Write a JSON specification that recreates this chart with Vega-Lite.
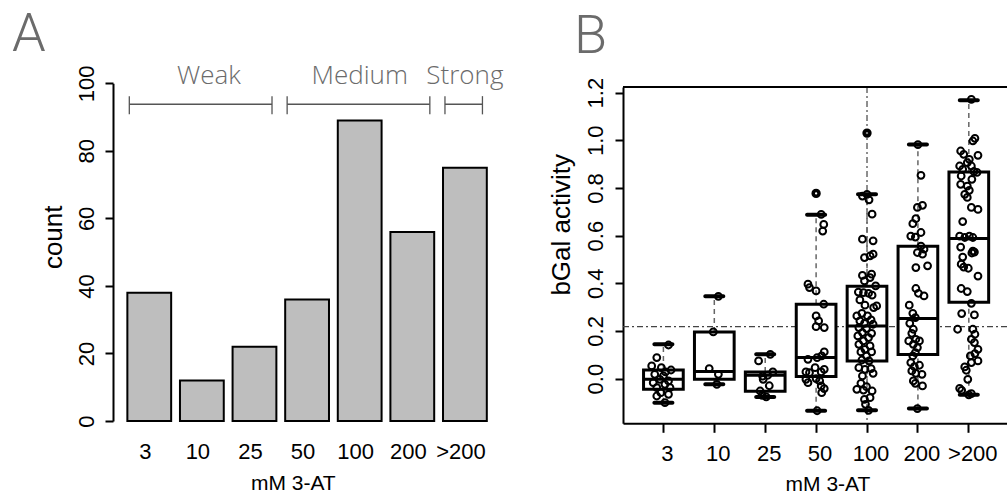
{
  "$schema": "https://vega.github.io/schema/vega-lite/v6.json",
  "background": "white",
  "padding": {"left": 12, "top": 8, "right": 0, "bottom": 0},
  "bounds": "flush",
  "spacing": 120,
  "config": {
    "font": "Liberation Sans",
    "view": {"stroke": null},
    "axis": {
      "labelFont": "Liberation Sans",
      "titleFont": "Liberation Sans",
      "labelColor": "black",
      "titleColor": "black",
      "titleFontWeight": "normal",
      "grid": false,
      "labelOverlap": false,
      "labelFlush": false
    }
  },
  "datasets": {
    "counts": [
      {"dose": "3", "count": 38},
      {"dose": "10", "count": 12},
      {"dose": "25", "count": 22},
      {"dose": "50", "count": 36},
      {"dose": "100", "count": 89},
      {"dose": "200", "count": 56},
      {"dose": ">200", "count": 75}
    ],
    "classes": [
      {"label": "Weak", "from": "3", "to": "25", "mid": "10"},
      {"label": "Medium", "from": "50", "to": "200", "mid": "100"},
      {"label": "Strong", "from": ">200", "to": ">200", "mid": ">200"}
    ],
    "stats": [
      {"dose": "3", "lower": -0.101, "q1": -0.045, "median": -0.003, "q3": 0.036, "upper": 0.144, "outlier": null},
      {"dose": "10", "lower": -0.024, "q1": -0.003, "median": 0.03, "q3": 0.196, "upper": 0.345, "outlier": null},
      {"dose": "25", "lower": -0.077, "q1": -0.053, "median": 0.014, "q3": 0.028, "upper": 0.102, "outlier": null},
      {"dose": "50", "lower": -0.135, "q1": 0.009, "median": 0.088, "q3": 0.312, "upper": 0.687, "outlier": 0.777},
      {"dose": "100", "lower": -0.133, "q1": 0.074, "median": 0.221, "q3": 0.387, "upper": 0.773, "outlier": 1.03},
      {"dose": "200", "lower": -0.126, "q1": 0.101, "median": 0.252, "q3": 0.555, "upper": 0.982, "outlier": null},
      {"dose": ">200", "lower": -0.068, "q1": 0.32, "median": 0.588, "q3": 0.867, "upper": 1.168, "outlier": null}
    ],
    "activity": [
      {"dose": "3", "v": 0.141, "j": 0.1}, {"dose": "3", "v": 0.088, "j": -0.13}, {"dose": "3", "v": 0.053, "j": -0.23},
      {"dose": "3", "v": 0.046, "j": -0.04}, {"dose": "3", "v": 0.036, "j": 0.15}, {"dose": "3", "v": 0.028, "j": 0.04},
      {"dose": "3", "v": 0.018, "j": -0.17}, {"dose": "3", "v": 0.011, "j": 0.0}, {"dose": "3", "v": -0.003, "j": -0.07},
      {"dose": "3", "v": -0.01, "j": 0.1}, {"dose": "3", "v": -0.017, "j": -0.2}, {"dose": "3", "v": -0.024, "j": 0.03},
      {"dose": "3", "v": -0.038, "j": -0.13}, {"dose": "3", "v": -0.038, "j": 0.13}, {"dose": "3", "v": -0.059, "j": -0.05},
      {"dose": "3", "v": -0.066, "j": 0.1}, {"dose": "3", "v": -0.073, "j": -0.13}, {"dose": "3", "v": -0.101, "j": 0.03},

      {"dose": "10", "v": 0.345, "j": 0.08}, {"dose": "10", "v": 0.196, "j": -0.02}, {"dose": "10", "v": 0.042, "j": -0.1},
      {"dose": "10", "v": 0.018, "j": 0.08}, {"dose": "10", "v": -0.024, "j": 0.05},

      {"dose": "25", "v": 0.102, "j": 0.1}, {"dose": "25", "v": 0.074, "j": -0.13}, {"dose": "25", "v": 0.028, "j": 0.15},
      {"dose": "25", "v": 0.014, "j": 0.05}, {"dose": "25", "v": 0.01, "j": -0.05}, {"dose": "25", "v": -0.003, "j": -0.04},
      {"dose": "25", "v": -0.03, "j": 0.08}, {"dose": "25", "v": -0.052, "j": -0.1}, {"dose": "25", "v": -0.07, "j": -0.06},
      {"dose": "25", "v": -0.077, "j": 0.02},

      {"dose": "50", "v": 0.689, "j": 0.1}, {"dose": "50", "v": 0.647, "j": 0.15}, {"dose": "50", "v": 0.619, "j": 0.13},
      {"dose": "50", "v": 0.396, "j": -0.16}, {"dose": "50", "v": 0.382, "j": -0.13}, {"dose": "50", "v": 0.368, "j": 0.0},
      {"dose": "50", "v": 0.312, "j": 0.15}, {"dose": "50", "v": 0.263, "j": 0.0}, {"dose": "50", "v": 0.242, "j": 0.05},
      {"dose": "50", "v": 0.218, "j": 0.0}, {"dose": "50", "v": 0.214, "j": 0.16}, {"dose": "50", "v": 0.112, "j": 0.16},
      {"dose": "50", "v": 0.095, "j": 0.11}, {"dose": "50", "v": 0.081, "j": -0.16}, {"dose": "50", "v": 0.088, "j": 0.02},
      {"dose": "50", "v": 0.046, "j": -0.02}, {"dose": "50", "v": 0.039, "j": 0.16}, {"dose": "50", "v": 0.028, "j": 0.1},
      {"dose": "50", "v": 0.028, "j": -0.2}, {"dose": "50", "v": 0.025, "j": -0.13}, {"dose": "50", "v": 0.0, "j": 0.0},
      {"dose": "50", "v": -0.003, "j": -0.2}, {"dose": "50", "v": -0.017, "j": -0.16}, {"dose": "50", "v": -0.01, "j": 0.07},
      {"dose": "50", "v": -0.031, "j": 0.1}, {"dose": "50", "v": -0.042, "j": 0.16}, {"dose": "50", "v": -0.059, "j": 0.11},
      {"dose": "50", "v": -0.135, "j": 0.02},

      {"dose": "100", "v": 0.773, "j": 0.0}, {"dose": "100", "v": 0.766, "j": -0.09}, {"dose": "100", "v": 0.75, "j": 0.04},
      {"dose": "100", "v": 0.69, "j": 0.1}, {"dose": "100", "v": 0.585, "j": -0.09}, {"dose": "100", "v": 0.578, "j": 0.12},
      {"dose": "100", "v": 0.508, "j": -0.05}, {"dose": "100", "v": 0.515, "j": 0.06}, {"dose": "100", "v": 0.522, "j": 0.12},
      {"dose": "100", "v": 0.433, "j": -0.09}, {"dose": "100", "v": 0.438, "j": 0.09}, {"dose": "100", "v": 0.424, "j": 0.06},
      {"dose": "100", "v": 0.41, "j": -0.05}, {"dose": "100", "v": 0.389, "j": 0.17}, {"dose": "100", "v": 0.363, "j": -0.17},
      {"dose": "100", "v": 0.361, "j": -0.07}, {"dose": "100", "v": 0.358, "j": 0.03}, {"dose": "100", "v": 0.35, "j": 0.1},
      {"dose": "100", "v": 0.33, "j": -0.14}, {"dose": "100", "v": 0.305, "j": 0.19}, {"dose": "100", "v": 0.308, "j": -0.04},
      {"dose": "100", "v": 0.298, "j": 0.13}, {"dose": "100", "v": 0.274, "j": -0.1}, {"dose": "100", "v": 0.263, "j": -0.2},
      {"dose": "100", "v": 0.263, "j": 0.01}, {"dose": "100", "v": 0.246, "j": 0.08}, {"dose": "100", "v": 0.242, "j": -0.14},
      {"dose": "100", "v": 0.232, "j": -0.05}, {"dose": "100", "v": 0.228, "j": 0.12}, {"dose": "100", "v": 0.214, "j": -0.16},
      {"dose": "100", "v": 0.21, "j": -0.01}, {"dose": "100", "v": 0.193, "j": -0.09}, {"dose": "100", "v": 0.19, "j": 0.09},
      {"dose": "100", "v": 0.179, "j": -0.18}, {"dose": "100", "v": 0.172, "j": 0.03}, {"dose": "100", "v": 0.158, "j": -0.07},
      {"dose": "100", "v": 0.144, "j": -0.16}, {"dose": "100", "v": 0.137, "j": 0.06}, {"dose": "100", "v": 0.123, "j": -0.04},
      {"dose": "100", "v": 0.112, "j": -0.12}, {"dose": "100", "v": 0.112, "j": 0.09}, {"dose": "100", "v": 0.095, "j": -0.01},
      {"dose": "100", "v": 0.078, "j": -0.1}, {"dose": "100", "v": 0.074, "j": 0.04}, {"dose": "100", "v": 0.046, "j": -0.16},
      {"dose": "100", "v": 0.039, "j": -0.04}, {"dose": "100", "v": 0.042, "j": 0.08}, {"dose": "100", "v": 0.022, "j": 0.12},
      {"dose": "100", "v": 0.011, "j": -0.09}, {"dose": "100", "v": -0.02, "j": -0.12}, {"dose": "100", "v": -0.034, "j": -0.01},
      {"dose": "100", "v": -0.045, "j": -0.2}, {"dose": "100", "v": -0.048, "j": -0.07}, {"dose": "100", "v": -0.052, "j": 0.1},
      {"dose": "100", "v": -0.087, "j": -0.05}, {"dose": "100", "v": -0.08, "j": 0.06}, {"dose": "100", "v": -0.108, "j": -0.03},
      {"dose": "100", "v": -0.133, "j": 0.03},

      {"dose": "200", "v": 0.982, "j": 0.0}, {"dose": "200", "v": 0.853, "j": 0.06}, {"dose": "200", "v": 0.727, "j": 0.09},
      {"dose": "200", "v": 0.718, "j": -0.01}, {"dose": "200", "v": 0.671, "j": -0.04}, {"dose": "200", "v": 0.65, "j": -0.1},
      {"dose": "200", "v": 0.613, "j": 0.06}, {"dose": "200", "v": 0.598, "j": -0.14}, {"dose": "200", "v": 0.594, "j": -0.05},
      {"dose": "200", "v": 0.556, "j": 0.06}, {"dose": "200", "v": 0.543, "j": 0.12}, {"dose": "200", "v": 0.529, "j": -0.01},
      {"dose": "200", "v": 0.522, "j": 0.09}, {"dose": "200", "v": 0.466, "j": -0.04}, {"dose": "200", "v": 0.473, "j": 0.19},
      {"dose": "200", "v": 0.378, "j": -0.04}, {"dose": "200", "v": 0.358, "j": 0.01}, {"dose": "200", "v": 0.347, "j": 0.12},
      {"dose": "200", "v": 0.308, "j": -0.17}, {"dose": "200", "v": 0.274, "j": -0.1}, {"dose": "200", "v": 0.256, "j": -0.05},
      {"dose": "200", "v": 0.232, "j": -0.16}, {"dose": "200", "v": 0.207, "j": -0.09}, {"dose": "200", "v": 0.19, "j": -0.12},
      {"dose": "200", "v": 0.165, "j": -0.04}, {"dose": "200", "v": 0.158, "j": -0.18}, {"dose": "200", "v": 0.158, "j": 0.03},
      {"dose": "200", "v": 0.144, "j": -0.09}, {"dose": "200", "v": 0.13, "j": -0.01}, {"dose": "200", "v": 0.109, "j": -0.05},
      {"dose": "200", "v": 0.095, "j": -0.1}, {"dose": "200", "v": 0.067, "j": -0.14}, {"dose": "200", "v": 0.05, "j": -0.07},
      {"dose": "200", "v": 0.056, "j": 0.03}, {"dose": "200", "v": 0.032, "j": -0.12}, {"dose": "200", "v": 0.022, "j": -0.04},
      {"dose": "200", "v": 0.018, "j": 0.08}, {"dose": "200", "v": -0.01, "j": -0.09}, {"dose": "200", "v": -0.02, "j": -0.05},
      {"dose": "200", "v": -0.031, "j": 0.09}, {"dose": "200", "v": -0.126, "j": -0.01},

      {"dose": ">200", "v": 1.172, "j": 0.05}, {"dose": ">200", "v": 1.008, "j": 0.12}, {"dose": ">200", "v": 0.997, "j": 0.08},
      {"dose": ">200", "v": 0.955, "j": -0.16}, {"dose": ">200", "v": 0.941, "j": -0.1}, {"dose": ">200", "v": 0.937, "j": 0.18},
      {"dose": ">200", "v": 0.92, "j": 0.01}, {"dose": ">200", "v": 0.906, "j": -0.03}, {"dose": ">200", "v": 0.892, "j": -0.18},
      {"dose": ">200", "v": 0.892, "j": 0.05}, {"dose": ">200", "v": 0.878, "j": -0.12}, {"dose": ">200", "v": 0.869, "j": 0.1},
      {"dose": ">200", "v": 0.865, "j": 0.16}, {"dose": ">200", "v": 0.85, "j": -0.15}, {"dose": ">200", "v": 0.836, "j": 0.06},
      {"dose": ">200", "v": 0.815, "j": -0.16}, {"dose": ">200", "v": 0.808, "j": -0.03}, {"dose": ">200", "v": 0.79, "j": 0.01},
      {"dose": ">200", "v": 0.773, "j": -0.08}, {"dose": ">200", "v": 0.76, "j": -0.03}, {"dose": ">200", "v": 0.718, "j": 0.05},
      {"dose": ">200", "v": 0.71, "j": 0.18}, {"dose": ">200", "v": 0.659, "j": -0.12}, {"dose": ">200", "v": 0.598, "j": -0.18},
      {"dose": ">200", "v": 0.592, "j": -0.08}, {"dose": ">200", "v": 0.598, "j": 0.01}, {"dose": ">200", "v": 0.592, "j": 0.08},
      {"dose": ">200", "v": 0.552, "j": -0.16}, {"dose": ">200", "v": 0.535, "j": 0.08}, {"dose": ">200", "v": 0.531, "j": 0.11},
      {"dose": ">200", "v": 0.527, "j": 0.06}, {"dose": ">200", "v": 0.51, "j": -0.12}, {"dose": ">200", "v": 0.48, "j": -0.15},
      {"dose": ">200", "v": 0.468, "j": -0.1}, {"dose": ">200", "v": 0.463, "j": -0.01}, {"dose": ">200", "v": 0.43, "j": 0.18},
      {"dose": ">200", "v": 0.378, "j": -0.15}, {"dose": ">200", "v": 0.365, "j": -0.03}, {"dose": ">200", "v": 0.316, "j": 0.05},
      {"dose": ">200", "v": 0.273, "j": -0.14}, {"dose": ">200", "v": 0.267, "j": 0.11}, {"dose": ">200", "v": 0.207, "j": -0.22},
      {"dose": ">200", "v": 0.207, "j": 0.08}, {"dose": ">200", "v": 0.186, "j": 0.12}, {"dose": ">200", "v": 0.165, "j": 0.05},
      {"dose": ">200", "v": 0.151, "j": 0.11}, {"dose": ">200", "v": 0.123, "j": 0.18}, {"dose": ">200", "v": 0.105, "j": 0.12},
      {"dose": ">200", "v": 0.095, "j": 0.03}, {"dose": ">200", "v": 0.074, "j": 0.18}, {"dose": ">200", "v": 0.067, "j": 0.05},
      {"dose": ">200", "v": 0.049, "j": -0.08}, {"dose": ">200", "v": 0.035, "j": -0.05}, {"dose": ">200", "v": -0.003, "j": -0.02},
      {"dose": ">200", "v": -0.041, "j": -0.18}, {"dose": ">200", "v": -0.049, "j": -0.14}, {"dose": ">200", "v": -0.063, "j": 0.05},
      {"dose": ">200", "v": -0.068, "j": 0.0}
    ]
  },
  "hconcat": [
    {
      "width": 390,
      "height": 334,
      "title": {
        "text": "A",
        "anchor": "start",
        "frame": "group",
        "dx": -101,
        "offset": -41.8,
        "font": "Roboto",
        "fontWeight": 300,
        "fontSize": 54,
        "color": "#6b6b6b",
        "baseline": "alphabetic"
      },
      "layer": [
        {
          "data": {"name": "counts"},
          "mark": {"type": "bar", "fill": "#bebebe", "stroke": "black", "strokeWidth": 2, "width": 43.8},
          "encoding": {
            "x": {
              "field": "dose",
              "type": "nominal",
              "scale": {
                "type": "band",
                "domain": ["3", "10", "25", "50", "100", "200", ">200"],
                "paddingInner": 0.1667,
                "paddingOuter": 0.29,
                "align": 0.47
              },
              "title": "mM 3-AT",
              "axis": {
                "ticks": false,
                "domain": false,
                "labelAngle": 0,
                "labelAlign": "center",
                "labelFontSize": 22,
                "labelPadding": 20,
                "labelOffset": -4,
                "titleFontSize": 21,
                "titleX": 179.8,
                "titleY": 51,
                "titleBaseline": "top",
                "titleAlign": "center"
              }
            },
            "y": {
              "field": "count",
              "type": "quantitative",
              "stack": null,
              "scale": {"domain": [0, 100], "range": [334, -3.7], "nice": false},
              "title": "count",
              "axis": {
                "values": [0, 20, 40, 60, 80, 100],
                "labelAngle": 270,
                "labelAlign": "center",
                "labelBaseline": "bottom",
                "labelFontSize": 22,
                "labelPadding": 6.5,
                "tickSize": 8,
                "tickWidth": 2,
                "tickColor": "black",
                "domainColor": "black",
                "domainWidth": 2,
                "titleFontSize": 26,
                "titleAngle": 270,
                "titleAlign": "center",
                "titleBaseline": "alphabetic",
                "titleX": -51.3,
                "titleY": 149.8
              }
            }
          }
        },
        {
          "data": {"name": "classes"},
          "mark": {"type": "rule", "color": "#555555", "strokeWidth": 1.3},
          "encoding": {
            "x": {"field": "from", "type": "nominal", "bandPosition": 0.045},
            "x2": {"field": "to", "bandPosition": 0.9},
            "y": {"datum": 93.8}
          }
        },
        {
          "data": {"name": "classes"},
          "mark": {"type": "rule", "color": "#555555", "strokeWidth": 1.3},
          "encoding": {
            "x": {"field": "from", "type": "nominal", "bandPosition": 0.045},
            "y": {"datum": 90.8},
            "y2": {"datum": 96.2}
          }
        },
        {
          "data": {"name": "classes"},
          "mark": {"type": "rule", "color": "#555555", "strokeWidth": 1.3},
          "encoding": {
            "x": {"field": "to", "type": "nominal", "bandPosition": 0.9},
            "y": {"datum": 90.8},
            "y2": {"datum": 96.2}
          }
        },
        {
          "data": {"name": "classes"},
          "transform": [{"filter": "datum.label === 'Weak'"}],
          "mark": {"type": "text", "font": "Open Sans", "fontWeight": 300, "fontSize": 26, "color": "#6b6b6b", "baseline": "alphabetic", "align": "center", "dx": 7},
          "encoding": {
            "x": {"field": "mid", "type": "nominal"},
            "y": {"datum": 99.7},
            "text": {"field": "label"}
          }
        },
        {
          "data": {"name": "classes"},
          "transform": [{"filter": "datum.label !== 'Weak'"}],
          "mark": {"type": "text", "font": "Open Sans", "fontWeight": 300, "fontSize": 26, "color": "#6b6b6b", "baseline": "alphabetic", "align": "center"},
          "encoding": {
            "x": {"field": "mid", "type": "nominal"},
            "y": {"datum": 99.7},
            "text": {"field": "label"}
          }
        }
      ]
    },
    {
      "width": 384,
      "height": 336.3,
      "title": {
        "text": "B",
        "anchor": "start",
        "frame": "group",
        "dx": -49,
        "offset": -29.5,
        "font": "Roboto",
        "fontWeight": 300,
        "fontSize": 54,
        "color": "#6b6b6b",
        "baseline": "alphabetic"
      },
      "layer": [
        {
          "data": {"values": [{}]},
          "mark": {"type": "rule", "color": "#444444", "strokeWidth": 1.2, "strokeDash": [6, 3, 2, 3]},
          "encoding": {
            "x": {"datum": "100", "type": "nominal", "bandPosition": 0.5}
          }
        },
        {
          "data": {"values": [{}]},
          "mark": {"type": "rule", "color": "#444444", "strokeWidth": 1.2, "strokeDash": [6, 3, 2, 3]},
          "encoding": {
            "y": {"datum": 0.218}
          }
        },
        {
          "encoding": {
            "x": {
              "field": "dose",
              "type": "nominal",
              "scale": {
                "type": "band",
                "domain": ["3", "10", "25", "50", "100", "200", ">200"],
                "paddingInner": 0,
                "paddingOuter": 0.272,
                "align": 0.54
              },
              "title": "mM 3-AT",
              "axis": {
                "labelAngle": 0,
                "labelAlign": "center",
                "labelFontSize": 22,
                "tickSize": 9,
                "tickWidth": 2,
                "tickColor": "black",
                "domainColor": "black",
                "domainWidth": 2,
                "labelPadding": 21,
                "labelOffset": 4,
                "titleFontSize": 21,
                "titleX": 204.5,
                "titleY": 50.5,
                "titleBaseline": "top",
                "titleAlign": "center"
              }
            }
          },
          "layer": [
            {
              "data": {"name": "stats"},
              "mark": {"type": "rule", "color": "#666666", "strokeWidth": 1.5, "strokeDash": [5, 4]},
              "encoding": {
                "y": {
                  "field": "lower",
                  "type": "quantitative",
                  "title": "bGal activity",
                  "scale": {"domain": [-0.1876, 1.2235], "nice": false, "zero": false},
                  "axis": {
                    "values": [0, 0.2, 0.4, 0.6, 0.8, 1.0, 1.2],
                    "format": ".1f",
                    "labelAngle": 270,
                    "labelAlign": "center",
                    "labelBaseline": "bottom",
                    "labelFontSize": 22,
                    "labelPadding": 7.5,
                    "tickSize": 8,
                    "tickWidth": 2,
                    "tickColor": "black",
                    "domainColor": "black",
                    "domainWidth": 2,
                    "titleFontSize": 26,
                    "titleAngle": 270,
                    "titleAlign": "center",
                    "titleBaseline": "alphabetic",
                    "titleX": -53.3,
                    "titleY": 137.3
                  }
                },
                "y2": {"field": "q1"}
              }
            },
            {
              "data": {"name": "stats"},
              "mark": {"type": "rule", "color": "#666666", "strokeWidth": 1.5, "strokeDash": [5, 4]},
              "encoding": {
                "y": {"field": "q3", "type": "quantitative", "title": "bGal activity"},
                "y2": {"field": "upper"}
              }
            },
            {
              "data": {"name": "stats"},
              "mark": {"type": "tick", "orient": "horizontal", "color": "black", "opacity": 1, "size": 22, "thickness": 4, "cornerRadius": 2},
              "encoding": {
                "y": {"field": "lower", "type": "quantitative", "title": "bGal activity"}
              }
            },
            {
              "data": {"name": "stats"},
              "mark": {"type": "tick", "orient": "horizontal", "color": "black", "opacity": 1, "size": 22, "thickness": 4, "cornerRadius": 2},
              "encoding": {
                "y": {"field": "upper", "type": "quantitative", "title": "bGal activity"}
              }
            },
            {
              "data": {"name": "stats"},
              "mark": {"type": "bar", "fill": "white", "stroke": "black", "strokeWidth": 3, "width": 39.7},
              "encoding": {
                "y": {"field": "q1", "type": "quantitative", "title": "bGal activity"},
                "y2": {"field": "q3"}
              }
            },
            {
              "data": {"name": "stats"},
              "mark": {"type": "tick", "orient": "horizontal", "color": "black", "opacity": 1, "size": 39.7, "thickness": 3},
              "encoding": {
                "y": {"field": "median", "type": "quantitative", "title": "bGal activity"}
              }
            },
            {
              "data": {"name": "activity"},
              "mark": {"type": "point", "shape": "circle", "filled": false, "color": "black", "size": 46, "strokeWidth": 2, "opacity": 1},
              "encoding": {
                "xOffset": {"field": "j", "type": "quantitative", "scale": {"domain": [-0.5, 0.5], "range": [0, 50.9]}},
                "y": {"field": "v", "type": "quantitative", "title": "bGal activity"}
              }
            },
            {
              "data": {"name": "stats"},
              "mark": {"type": "point", "shape": "circle", "filled": false, "color": "black", "size": 34, "strokeWidth": 3.5, "opacity": 1},
              "encoding": {
                "y": {"field": "outlier", "type": "quantitative", "title": "bGal activity"}
              }
            }
          ]
        },
        {
          "data": {"values": [{}]},
          "mark": {"type": "rule", "color": "black", "strokeWidth": 2},
          "encoding": {
            "y": {"datum": 1.2235}
          }
        }
      ]
    }
  ]
}
